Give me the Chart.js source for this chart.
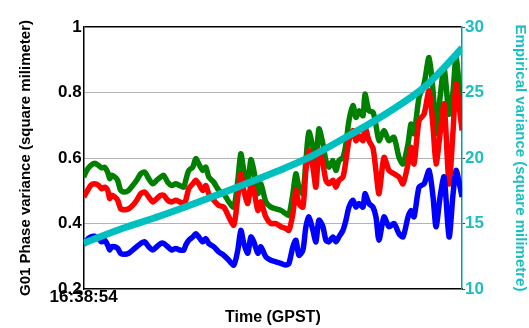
<!DOCTYPE html>
<html>
<head>
<meta charset="utf-8">
<script src="https://cdn.jsdelivr.net/npm/chart.js@4"></script>
<style>
  html, body { margin: 0; padding: 0; background: #fff; }
</style>
</head>
<body>
<canvas id="chart" width="529" height="328"></canvas>
<script>
// seconds after 16:38:54 (GPST)
const seconds = [
  0, 60, 140, 220, 300, 360, 420, 480, 520, 560, 620, 680, 740, 820, 900, 980, 1060, 1140, 1220, 1300,
  1380, 1460, 1540, 1600, 1680, 1760, 1840, 1920, 2000, 2040, 2100, 2180, 2240, 2300, 2380, 2440, 2500, 2600, 2700, 2800,
  2900, 3000, 3080, 3140, 3200, 3280, 3340, 3400, 3480, 3540, 3640, 3740, 3840, 3940, 4040, 4100, 4180, 4240, 4300, 4380,
  4440, 4500, 4580, 4640, 4700, 4780, 4840, 4900, 4980, 5040, 5100, 5180, 5240, 5300, 5380, 5440, 5500, 5580, 5620, 5700,
  5780, 5840, 5900, 6000, 6100, 6200, 6300, 6380, 6480, 6540, 6600, 6700, 6800, 6900, 6980, 7040, 7120, 7200, 7300, 7380,
  7440, 7520, 7560
];

const green = [
  .542, .562, .577, .584, .577, .570, .572, .557, .537, .547, .542, .532, .501, .496, .501, .516, .532, .552, .557, .537,
  .521, .532, .542, .547, .526, .516, .521, .516, .511, .532, .562, .572, .598, .582, .562, .572, .542, .526, .501, .491,
  .466, .450, .532, .613, .562, .521, .595, .562, .491, .521, .466, .450, .445, .440, .430, .425, .491, .552, .511, .491,
  .592, .679, .633, .592, .689, .643, .592, .572, .592, .562, .592, .602, .643, .714, .760, .724, .744, .729, .795, .744,
  .740, .700, .653, .684, .653, .663, .602, .582, .643, .704, .674, .785, .826, .907, .805, .674, .785, .876, .734, .805,
  .912, .785, .734
];

const red = [
  .481, .496, .516, .521, .516, .506, .511, .501, .476, .486, .481, .471, .445, .442, .445, .455, .471, .491, .496, .481,
  .466, .476, .486, .486, .471, .466, .471, .466, .461, .471, .506, .521, .532, .521, .501, .516, .491, .471, .455, .450,
  .420, .395, .481, .552, .501, .461, .516, .501, .440, .466, .420, .400, .400, .390, .385, .379, .430, .501, .461, .450,
  .562, .623, .572, .511, .623, .582, .532, .521, .532, .511, .532, .542, .592, .653, .684, .653, .668, .653, .694, .653,
  .630, .560, .491, .602, .562, .552, .542, .521, .582, .633, .582, .714, .734, .805, .694, .582, .674, .765, .521, .684,
  .826, .734, .684
];

const blue = [
  .334, .349, .359, .361, .354, .344, .349, .334, .319, .329, .329, .324, .309, .306, .309, .319, .329, .339, .344, .329,
  .319, .329, .339, .339, .329, .319, .324, .319, .319, .334, .349, .359, .369, .359, .344, .354, .339, .329, .313, .303,
  .288, .273, .319, .379, .339, .309, .359, .344, .309, .329, .298, .288, .283, .278, .273, .278, .329, .349, .303, .319,
  .390, .420, .379, .344, .410, .390, .349, .344, .359, .344, .359, .379, .410, .450, .471, .450, .461, .450, .491, .461,
  .450, .420, .349, .420, .390, .400, .369, .359, .420, .440, .420, .511, .521, .562, .481, .390, .481, .542, .359, .491,
  .562, .511, .481
];

// empirical variance, right axis
const empSeconds = [0, 756, 1512, 2268, 3024, 3780, 4536, 5292, 6048, 6804, 7200, 7560];
const empirical = [13.5, 14.6, 15.55, 16.6, 17.7, 18.85, 20.1, 21.7, 23.4, 25.4, 26.9, 28.4];

const startLabel = "16:38:54";
const leftTicks = [0.2, 0.4, 0.6, 0.8, 1];
const rightTicks = [10, 15, 20, 25, 30];

const toPoints = (xs, ys) => ys.map((y, i) => ({ x: xs[i], y: y }));

const family = "'Liberation Sans', Arial, sans-serif";
const font = { family: family, size: 17, weight: "bold" };
const cyan = "#1cbfbf";

new Chart(document.getElementById("chart").getContext("2d"), {
  type: "line",
  data: {
    datasets: [
      {
        data: toPoints(empSeconds, empirical),
        yAxisID: "y1",
        borderColor: "#00bfbf",
        borderWidth: 7,
        pointRadius: 0,
        cubicInterpolationMode: "monotone",
      },
      {
        data: toPoints(seconds, blue),
        yAxisID: "y",
        borderColor: "#0000ff",
        borderWidth: 5.5,
        pointRadius: 0,
        tension: 0.25,
      },
      {
        data: toPoints(seconds, red),
        yAxisID: "y",
        borderColor: "#ff0000",
        borderWidth: 5.5,
        pointRadius: 0,
        tension: 0.25,
      },
      {
        data: toPoints(seconds, green),
        yAxisID: "y",
        borderColor: "#008000",
        borderWidth: 5.5,
        pointRadius: 0,
        tension: 0.25,
      },
    ],
  },
  options: {
    responsive: false,
    animation: false,
    devicePixelRatio: 1,
    layout: { padding: { top: 27, left: 17, right: 0, bottom: 2 } },
    plugins: { legend: { display: false }, tooltip: { enabled: false } },
    scales: {
      x: {
        type: "linear",
        min: 0,
        max: 7560,
        grid: { display: false, drawTicks: false },
        border: { color: "#000", width: 1.5 },
        afterBuildTicks: (axis) => {
          axis.ticks = [{ value: 0 }];
        },
        ticks: {
          color: "#000",
          font: { family: family, size: 17, weight: "bold", lineHeight: 1 },
          padding: 0,
          maxRotation: 0,
          callback: () => startLabel,
        },
        title: {
          display: true,
          text: "Time (GPST)",
          color: "#000",
          font: { family: family, size: 16, weight: "bold", lineHeight: 1 },
          padding: { top: 4, bottom: 0 },
        },
      },
      y: {
        position: "left",
        min: 0.2,
        max: 1,
        afterBuildTicks: (axis) => {
          axis.ticks = leftTicks.map((v) => ({ value: v }));
        },
        grid: {
          drawTicks: false,
          color: (ctx) => (ctx.tick.value === 1 ? "#000" : ctx.tick.value === 0.2 ? "rgba(0,0,0,0)" : "#b4b4b4"),
          lineWidth: (ctx) => (ctx.tick.value === 1 ? 1.5 : 1),
        },
        border: { color: "#000", width: 1.5 },
        ticks: {
          color: "#000",
          font: font,
          padding: 2,
          callback: (v) => String(Number(v.toFixed(1))),
        },
        title: {
          display: true,
          text: "G01 Phase variance (square milimeter)",
          color: "#000",
          font: { family: family, size: 15, weight: "bold" },
          padding: { top: 0, bottom: 21 },
        },
      },
      y1: {
        position: "right",
        min: 10,
        max: 30,
        afterBuildTicks: (axis) => {
          axis.ticks = rightTicks.map((v) => ({ value: v }));
        },
        grid: { drawOnChartArea: false, color: "#444", tickLength: 3 },
        border: { color: "#0a9a9a", width: 1.5 },
        ticks: { color: cyan, font: font, padding: 0 },
        title: {
          display: true,
          text: "Empirical variance (square milimetre)",
          color: cyan,
          font: { family: family, size: 15, weight: "bold" },
          padding: { top: 0, bottom: 27 },
        },
      },
    },
  },
});
</script>
</body>
</html>
